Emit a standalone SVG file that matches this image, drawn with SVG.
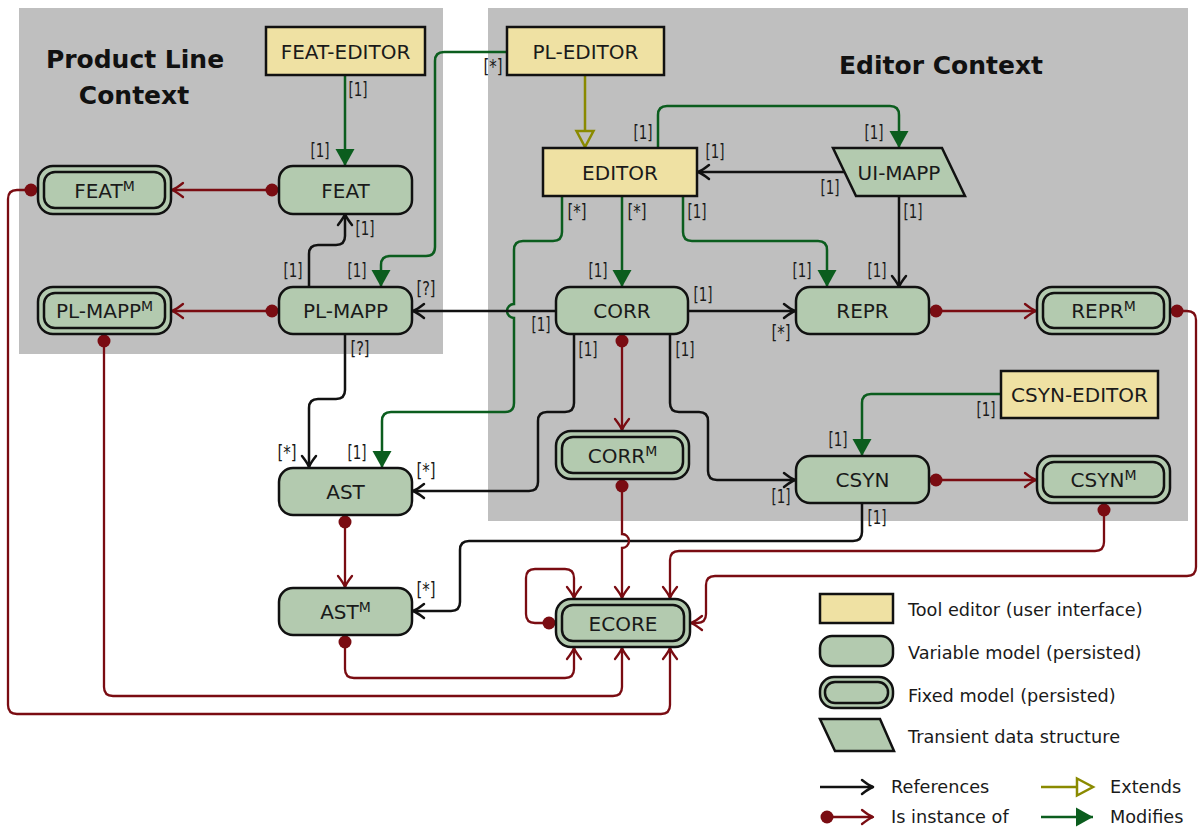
<svg xmlns="http://www.w3.org/2000/svg" width="1200" height="827" viewBox="0 0 1200 827">
<style>
.panel{fill:#bfbfbf}
.title{font-family:"DejaVu Sans",sans-serif;font-weight:bold;font-size:25px;fill:#111;text-anchor:middle}
.ed{fill:#efe1a3;stroke:#111;stroke-width:2.5}
.vm{fill:#b3caaf;stroke:#111;stroke-width:2.5}
.in{fill:none;stroke:#111;stroke-width:2.5}
.nl{font-family:"DejaVu Sans",sans-serif;font-size:20px;fill:#1a1a1a;text-anchor:middle}
.sup{font-size:14px}
.ml{font-family:"DejaVu Sans Condensed","DejaVu Sans",sans-serif;font-size:20px;fill:#1a1a1a;text-anchor:middle}
.lg{font-family:"DejaVu Sans",sans-serif;font-size:17.7px;fill:#1a1a1a}
.ref{fill:none;stroke:#111;stroke-width:2.5;marker-end:url(#aBlack)}
.mod{fill:none;stroke:#0b5d1e;stroke-width:2.5;marker-end:url(#tGreen)}
.ext{fill:none;stroke:#8a8a00;stroke-width:2.5;marker-end:url(#tOlive)}
.inst{fill:none;stroke:#7a0c12;stroke-width:2.3;marker-start:url(#dRed);marker-end:url(#aRed)}
</style>
<defs>
<marker id="aBlack" markerUnits="userSpaceOnUse" orient="auto" refX="0" refY="0" markerWidth="20" markerHeight="20" overflow="visible">
<path d="M-11,-7 Q-4,-1.5 0,0 Q-4,1.5 -11,7" fill="none" stroke="#111" stroke-width="2.5" stroke-linecap="round" stroke-linejoin="round"/>
</marker>
<marker id="aRed" markerUnits="userSpaceOnUse" orient="auto" refX="0" refY="0" markerWidth="20" markerHeight="20" overflow="visible">
<path d="M-11,-7 Q-4,-1.5 0,0 Q-4,1.5 -11,7" fill="none" stroke="#7a0c12" stroke-width="2.3" stroke-linecap="round" stroke-linejoin="round"/>
</marker>
<marker id="dRed" markerUnits="userSpaceOnUse" orient="auto" refX="0" refY="0" markerWidth="20" markerHeight="20" overflow="visible">
<circle cx="0" cy="0" r="6.5" fill="#7a0c12"/>
</marker>
<marker id="tGreen" markerUnits="userSpaceOnUse" orient="auto" refX="0" refY="0" markerWidth="20" markerHeight="20" overflow="visible">
<path d="M-17,-9.5 L0,0 L-17,9.5 z" fill="#0b5d1e"/>
</marker>
<marker id="tOlive" markerUnits="userSpaceOnUse" orient="auto" refX="0" refY="0" markerWidth="20" markerHeight="20" overflow="visible">
<path d="M0,-8.5 L16,0 L0,8.5 z" fill="none" stroke="#8a8a00" stroke-width="2.5" stroke-linejoin="miter"/>
</marker>
</defs>
<rect width="1200" height="827" fill="#ffffff"/>

<g id="ctx-pl">
<rect class="panel" x="19" y="8" width="424" height="346"/>
<text class="title" x="135" y="68">Product Line</text>
<text class="title" x="134" y="104">Context</text>
</g>
<g id="ctx-editor">
<rect class="panel" x="488" y="8" width="700" height="513"/>
<text class="title" x="941" y="74">Editor Context</text>
</g>

<g id="connectors">
<path class="mod" d="M345,75 V166"/>
<path class="mod" d="M507,52 H444 Q435,52 435,61 V247 Q435,256 426,256 H390 Q381,256 381,265 V287"/>
<path class="mod" d="M658,148 V115 Q658,106 667,106 H890 Q899,106 899,115 V148"/>
<path class="mod" d="M622,196 V287"/>
<path class="mod" d="M683,196 V232 Q683,241 692,241 H818 Q827,241 827,250 V287"/>
<path class="mod" d="M562,196 V232 Q562,241 553,241 H523 Q514,241 514,250 V304 A7,7 0 0 0 514,318 V403 Q514,412 505,412 H391 Q382,412 382,421 V468"/>
<path class="mod" d="M1001,394 H871 Q862,394 862,403 V456"/>
<path class="ext" d="M585,75 V131"/>

<path class="ref" d="M309,287 V254 Q309,245 318,245 H336 Q345,245 345,236 V214"/>
<path class="ref" d="M844,172 H698"/>
<path class="ref" d="M899,196 V287"/>
<path class="ref" d="M556,311 H413"/>
<path class="ref" d="M688,311 H795"/>
<path class="ref" d="M345,334 V390 Q345,399 336,399 H318 Q309,399 309,408 V467"/>
<path class="ref" d="M574,334 V403 Q574,412 565,412 H547 Q538,412 538,421 V482 Q538,491 529,491 H413"/>
<path class="ref" d="M670,334 V403 Q670,412 679,412 H699 Q708,412 708,421 V471 Q708,480 717,480 H795"/>
<path class="ref" d="M862,503 V532 Q862,541 853,541 H469 Q460,541 460,550 V602 Q460,611 451,611 H413"/>

<path class="inst" d="M272,190 H172"/>
<path class="inst" d="M272,311 H172"/>
<path class="inst" d="M936,311 H1036"/>
<path class="inst" d="M936,480 H1036"/>
<path class="inst" d="M622,341 V430"/>
<path class="inst" d="M345,522 V587"/>
<path class="inst" d="M622,486 V534 A7,7 0 0 1 622,548 V598"/>
<path class="inst" d="M345,642 V669 Q345,678 354,678 H565 Q574,678 574,669 V648"/>
<path class="inst" d="M104,341 V687 Q104,696 113,696 H613 Q622,696 622,687 V648"/>
<path class="inst" d="M31,190 H17 Q8,190 8,199 V705 Q8,714 17,714 H661 Q670,714 670,705 V648"/>
<path class="inst" d="M549,623 H535 Q526,623 526,614 V578 Q526,569 535,569 H565 Q574,569 574,578 V598"/>
<path class="inst" d="M1104,510 V542 Q1104,551 1095,551 H679 Q670,551 670,560 V598"/>
<path class="inst" d="M1177,311 H1187 Q1196,311 1196,320 V567 Q1196,576 1187,576 H715 Q706,576 706,585 V614 Q706,623 697,623 H691"/>
</g>

<g id="multiplicities">
<text class="ml" x="358" y="96" textLength="19" lengthAdjust="spacingAndGlyphs">[1]</text>
<text class="ml" x="320" y="157" textLength="19" lengthAdjust="spacingAndGlyphs">[1]</text>
<text class="ml" x="493" y="73" textLength="19" lengthAdjust="spacingAndGlyphs">[*]</text>
<text class="ml" x="357" y="277" textLength="19" lengthAdjust="spacingAndGlyphs">[1]</text>
<text class="ml" x="365" y="235" textLength="19" lengthAdjust="spacingAndGlyphs">[1]</text>
<text class="ml" x="293" y="277" textLength="19" lengthAdjust="spacingAndGlyphs">[1]</text>
<text class="ml" x="426" y="295" textLength="19" lengthAdjust="spacingAndGlyphs">[?]</text>
<text class="ml" x="360" y="355" textLength="19" lengthAdjust="spacingAndGlyphs">[?]</text>
<text class="ml" x="287" y="459" textLength="19" lengthAdjust="spacingAndGlyphs">[*]</text>
<text class="ml" x="357" y="459" textLength="19" lengthAdjust="spacingAndGlyphs">[1]</text>
<text class="ml" x="426" y="477" textLength="19" lengthAdjust="spacingAndGlyphs">[*]</text>
<text class="ml" x="541" y="331" textLength="19" lengthAdjust="spacingAndGlyphs">[1]</text>
<text class="ml" x="588" y="356" textLength="19" lengthAdjust="spacingAndGlyphs">[1]</text>
<text class="ml" x="685" y="356" textLength="19" lengthAdjust="spacingAndGlyphs">[1]</text>
<text class="ml" x="643" y="139" textLength="19" lengthAdjust="spacingAndGlyphs">[1]</text>
<text class="ml" x="715" y="158" textLength="19" lengthAdjust="spacingAndGlyphs">[1]</text>
<text class="ml" x="830" y="194" textLength="19" lengthAdjust="spacingAndGlyphs">[1]</text>
<text class="ml" x="577" y="218" textLength="19" lengthAdjust="spacingAndGlyphs">[*]</text>
<text class="ml" x="637" y="218" textLength="19" lengthAdjust="spacingAndGlyphs">[*]</text>
<text class="ml" x="697" y="218" textLength="19" lengthAdjust="spacingAndGlyphs">[1]</text>
<text class="ml" x="598" y="277" textLength="19" lengthAdjust="spacingAndGlyphs">[1]</text>
<text class="ml" x="703" y="301" textLength="19" lengthAdjust="spacingAndGlyphs">[1]</text>
<text class="ml" x="802" y="277" textLength="19" lengthAdjust="spacingAndGlyphs">[1]</text>
<text class="ml" x="781" y="339" textLength="19" lengthAdjust="spacingAndGlyphs">[*]</text>
<text class="ml" x="874" y="139" textLength="19" lengthAdjust="spacingAndGlyphs">[1]</text>
<text class="ml" x="913" y="218" textLength="19" lengthAdjust="spacingAndGlyphs">[1]</text>
<text class="ml" x="877" y="277" textLength="19" lengthAdjust="spacingAndGlyphs">[1]</text>
<text class="ml" x="986" y="416" textLength="19" lengthAdjust="spacingAndGlyphs">[1]</text>
<text class="ml" x="838" y="446" textLength="19" lengthAdjust="spacingAndGlyphs">[1]</text>
<text class="ml" x="877" y="524" textLength="19" lengthAdjust="spacingAndGlyphs">[1]</text>
<text class="ml" x="781" y="503" textLength="19" lengthAdjust="spacingAndGlyphs">[1]</text>
<text class="ml" x="426" y="596" textLength="19" lengthAdjust="spacingAndGlyphs">[*]</text>
</g>

<g id="feat-editor"><rect class="ed" x="266" y="27" width="159" height="48"/><text class="nl" x="345.5" y="59">FEAT-EDITOR</text></g>
<g id="pl-editor"><rect class="ed" x="507" y="27" width="157" height="48"/><text class="nl" x="585.5" y="59">PL-EDITOR</text></g>
<g id="editor"><rect class="ed" x="543" y="148" width="154" height="48"/><text class="nl" x="620" y="180">EDITOR</text></g>
<g id="ui-mapp"><polygon class="vm" points="833,148 942,148 965,196 856,196"/><text class="nl" x="899" y="180">UI-MAPP</text></g>
<g id="feat"><rect class="vm" x="279" y="166" width="133" height="48" rx="14"/><text class="nl" x="345.5" y="198">FEAT</text></g>
<g id="feat-m"><rect class="vm" x="38" y="166" width="133" height="48" rx="15"/><rect class="in" x="44" y="172" width="121" height="36" rx="11"/><text class="nl" x="104.5" y="198">FEAT<tspan class="sup" dy="-7">M</tspan></text></g>
<g id="pl-mapp"><rect class="vm" x="279" y="287" width="133" height="47" rx="14"/><text class="nl" x="345.5" y="318">PL-MAPP</text></g>
<g id="pl-mapp-m"><rect class="vm" x="38" y="287" width="133" height="47" rx="15"/><rect class="in" x="44" y="293" width="121" height="35" rx="11"/><text class="nl" x="104.5" y="318">PL-MAPP<tspan class="sup" dy="-7">M</tspan></text></g>
<g id="corr"><rect class="vm" x="556" y="287" width="132" height="47" rx="14"/><text class="nl" x="622" y="318">CORR</text></g>
<g id="repr"><rect class="vm" x="796" y="287" width="133" height="47" rx="14"/><text class="nl" x="862.5" y="318">REPR</text></g>
<g id="repr-m"><rect class="vm" x="1037" y="287" width="133" height="47" rx="15"/><rect class="in" x="1043" y="293" width="121" height="35" rx="11"/><text class="nl" x="1103.5" y="318">REPR<tspan class="sup" dy="-7">M</tspan></text></g>
<g id="csyn-editor"><rect class="ed" x="1001" y="371" width="157" height="47"/><text class="nl" x="1079.5" y="402">CSYN-EDITOR</text></g>
<g id="csyn"><rect class="vm" x="796" y="456" width="133" height="47" rx="14"/><text class="nl" x="862.5" y="487">CSYN</text></g>
<g id="csyn-m"><rect class="vm" x="1037" y="456" width="133" height="47" rx="15"/><rect class="in" x="1043" y="462" width="121" height="35" rx="11"/><text class="nl" x="1103.5" y="487">CSYN<tspan class="sup" dy="-7">M</tspan></text></g>
<g id="corr-m"><rect class="vm" x="556" y="431" width="133" height="48" rx="15"/><rect class="in" x="562" y="437" width="121" height="36" rx="11"/><text class="nl" x="622.5" y="463">CORR<tspan class="sup" dy="-7">M</tspan></text></g>
<g id="ast"><rect class="vm" x="279" y="468" width="133" height="47" rx="14"/><text class="nl" x="345.5" y="499">AST</text></g>
<g id="ast-m"><rect class="vm" x="279" y="588" width="133" height="47" rx="14"/><text class="nl" x="345.5" y="619">AST<tspan class="sup" dy="-7">M</tspan></text></g>
<g id="ecore"><rect class="vm" x="556" y="599" width="134" height="48" rx="15"/><rect class="in" x="562" y="605" width="122" height="36" rx="11"/><text class="nl" x="623" y="631">ECORE</text></g>

<g id="legend">
<rect class="ed" x="820" y="594" width="73" height="29"/>
<text class="lg" x="908" y="616">Tool editor (user interface)</text>
<rect class="vm" x="820" y="636" width="73" height="30" rx="12"/>
<text class="lg" x="908" y="659">Variable model (persisted)</text>
<rect class="vm" x="820" y="677" width="73" height="31" rx="14"/>
<rect class="in" x="825" y="682" width="63" height="21" rx="10"/>
<text class="lg" x="908" y="702">Fixed model (persisted)</text>
<polygon class="vm" points="820,719 880,719 894,751 835,751"/>
<text class="lg" x="908" y="743">Transient data structure</text>
<path class="ref" d="M820,787 H873"/>
<text class="lg" x="891" y="793">References</text>
<path class="inst" d="M827,817 H873"/>
<text class="lg" x="891" y="823">Is instance of</text>
<path class="ext" d="M1041,787 H1077"/>
<text class="lg" x="1110" y="793">Extends</text>
<path class="mod" d="M1041,817 H1093"/>
<text class="lg" x="1110" y="823">Modifies</text>
</g>
</svg>
